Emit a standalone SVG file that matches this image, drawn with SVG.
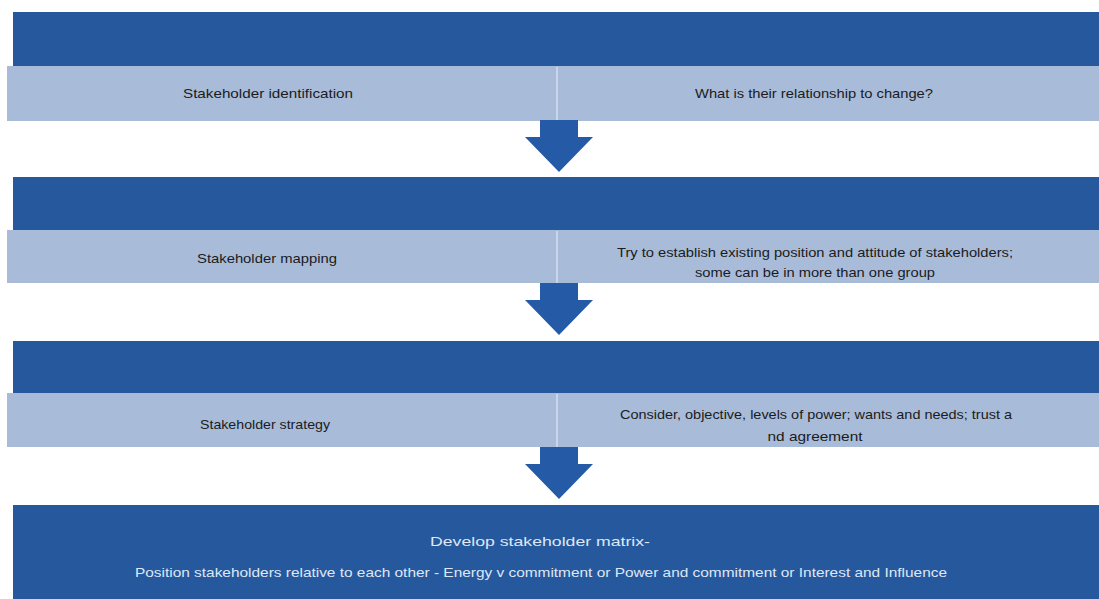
<svg xmlns="http://www.w3.org/2000/svg" width="1099" height="599" viewBox="0 0 1099 599">
  <defs>
    <style>
      .head { fill: #26589e; }
      .band { fill: #a8bbd9; }
      .split { stroke: #c9d6ea; stroke-width: 2; }
      .arrow { fill: #245aa6; }
      .lbl { font-family: "Liberation Sans", Arial, sans-serif; font-size: 13px; fill: #1b1b22; text-anchor: middle; }
      .wlbl { font-family: "Liberation Sans", Arial, sans-serif; font-size: 13px; fill: #dfe7f4; text-anchor: middle; }
    </style>
    <polygon id="downArrow" points="-19,0 19,0 19,17 34,17 0,52 -34,17 -19,17"/>
  </defs>
  <rect width="1099" height="599" fill="#ffffff"/>

  <!-- step 1 -->
  <g id="step1">
    <rect class="head" x="13" y="12" width="1086" height="54"/>
    <rect class="band" x="7" y="66" width="1092" height="55"/>
    <line class="split" x1="557" y1="67" x2="557" y2="121"/>
    <text class="lbl" x="268" y="98" textLength="170" lengthAdjust="spacingAndGlyphs">Stakeholder identification</text>
    <text class="lbl" x="814" y="98" textLength="238" lengthAdjust="spacingAndGlyphs">What is their relationship to change?</text>
  </g>

  <!-- step 2 -->
  <g id="step2">
    <rect class="head" x="13" y="177" width="1086" height="53"/>
    <rect class="band" x="7" y="230" width="1092" height="53"/>
    <line class="split" x1="557" y1="231" x2="557" y2="283"/>
    <text class="lbl" x="267" y="263" textLength="140" lengthAdjust="spacingAndGlyphs">Stakeholder mapping</text>
    <text class="lbl" x="815" y="257" textLength="396" lengthAdjust="spacingAndGlyphs">Try to establish existing position and attitude of stakeholders;</text>
    <text class="lbl" x="815" y="277" textLength="240" lengthAdjust="spacingAndGlyphs">some can be in more than one group</text>
  </g>

  <!-- step 3 -->
  <g id="step3">
    <rect class="head" x="13" y="341" width="1086" height="52"/>
    <rect class="band" x="7" y="393" width="1092" height="54"/>
    <line class="split" x1="557" y1="394" x2="557" y2="447"/>
    <text class="lbl" x="265" y="429" textLength="130" lengthAdjust="spacingAndGlyphs">Stakeholder strategy</text>
    <text class="lbl" x="816" y="419" textLength="392" lengthAdjust="spacingAndGlyphs">Consider, objective, levels of power; wants and needs; trust a</text>
    <text class="lbl" x="815" y="441" textLength="95" lengthAdjust="spacingAndGlyphs">nd agreement</text>
  </g>

  <!-- step 4 -->
  <g id="step4">
    <rect class="head" x="13" y="505" width="1086" height="94"/>
    <text class="wlbl" x="540" y="546" textLength="220" lengthAdjust="spacingAndGlyphs">Develop stakeholder matrix-</text>
    <text class="wlbl" x="541" y="577" textLength="812" lengthAdjust="spacingAndGlyphs">Position stakeholders relative to each other - Energy v commitment or Power and commitment or Interest and Influence</text>
  </g>

  <!-- connectors -->
  <g id="connectors">
    <use href="#downArrow" class="arrow" x="559" y="120"/>
    <use href="#downArrow" class="arrow" x="559" y="283"/>
    <use href="#downArrow" class="arrow" x="559" y="447"/>
  </g>
</svg>
